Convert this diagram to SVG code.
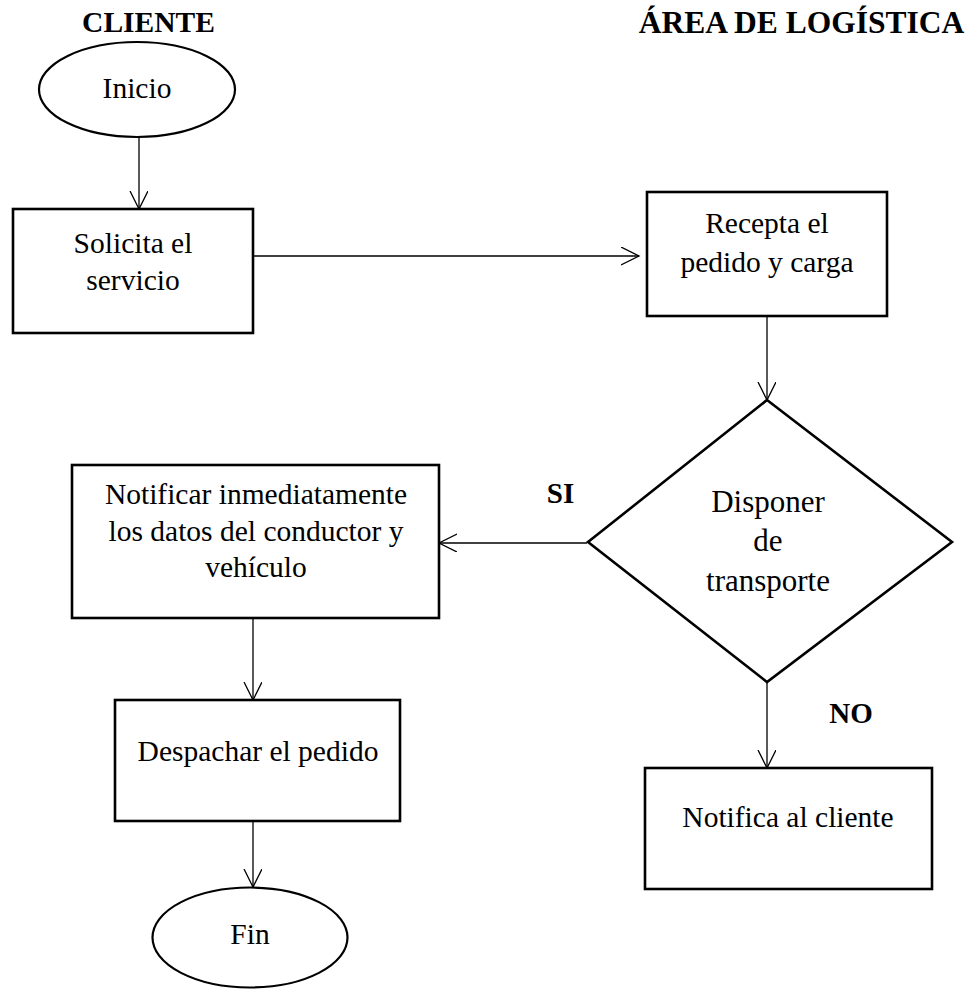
<svg xmlns="http://www.w3.org/2000/svg" width="979" height="989" viewBox="0 0 979 989">
<style>
  .box { fill: #ffffff; stroke: #000000; stroke-width: 2.6; }
  .term { fill: #ffffff; stroke: #000000; stroke-width: 2.2; }
  .conn { fill: none; stroke: #000000; stroke-width: 1.3; marker-end: url(#arr); }
  text { font-family: "Liberation Serif", "Times New Roman", serif; fill: #000000; text-anchor: middle; }
  .t { font-size: 29.5px; }
  .td { font-size: 31px; }
  .h { font-weight: bold; }
  .lbl { font-size: 29px; font-weight: bold; }
</style>
<defs>
  <marker id="arr" markerUnits="userSpaceOnUse" markerWidth="22" markerHeight="22" refX="18" refY="9" orient="auto">
    <path d="M0,0 L18,9 L0,18" fill="none" stroke="#000000" stroke-width="1.3"/>
  </marker>
</defs>
<g id="headings">
  <text class="h" x="148.5" y="32" font-size="29.5">CLIENTE</text>
  <text class="h" x="801.5" y="33" font-size="31.5">ÁREA DE LOGÍSTICA</text>
</g>
<g id="connectors">
  <line class="conn" x1="139" y1="137" x2="139" y2="209"/>
  <line class="conn" x1="253" y1="256" x2="639" y2="256"/>
  <line class="conn" x1="767" y1="316" x2="767" y2="400"/>
  <line class="conn" x1="587" y1="543" x2="439" y2="543"/>
  <line class="conn" x1="253" y1="618" x2="253" y2="700"/>
  <line class="conn" x1="253" y1="821" x2="253" y2="887"/>
  <line class="conn" x1="767" y1="682" x2="767" y2="768"/>
</g>
<g id="inicio">
  <ellipse class="term" cx="137" cy="89.5" rx="98" ry="47.5"/>
  <text class="t" x="137" y="98" font-size="31">Inicio</text>
</g>
<g id="solicita">
  <rect class="box" x="13" y="209" width="240" height="124"/>
  <text class="t" x="133" y="253">Solicita el</text>
  <text class="t" x="133" y="290">servicio</text>
</g>
<g id="recepta">
  <rect class="box" x="647" y="192" width="240" height="124"/>
  <text class="t" x="767" y="233">Recepta el</text>
  <text class="t" x="767" y="272">pedido y carga</text>
</g>
<g id="disponer">
  <polygon class="box" points="767,400 952,542 767,682 588,542"/>
  <text class="td" x="768" y="512">Disponer</text>
  <text class="td" x="768" y="551">de</text>
  <text class="td" x="768" y="591">transporte</text>
</g>
<g id="notificar">
  <rect class="box" x="72" y="465" width="367" height="153"/>
  <text class="t" x="256" y="504">Notificar inmediatamente</text>
  <text class="t" x="256" y="541">los datos del conductor y</text>
  <text class="t" x="256" y="577">vehículo</text>
</g>
<g id="despachar">
  <rect class="box" x="115" y="700" width="285" height="121"/>
  <text class="t" x="258" y="761">Despachar el pedido</text>
</g>
<g id="fin">
  <ellipse class="term" cx="250" cy="937.5" rx="97.5" ry="50"/>
  <text class="t" x="250" y="944">Fin</text>
</g>
<g id="notifica">
  <rect class="box" x="645" y="768" width="287" height="121"/>
  <text class="t" x="788" y="827">Notifica al cliente</text>
</g>
<g id="labels">
  <text class="lbl" x="560.5" y="503">SI</text>
  <text class="lbl" x="851" y="723">NO</text>
</g>
</svg>
